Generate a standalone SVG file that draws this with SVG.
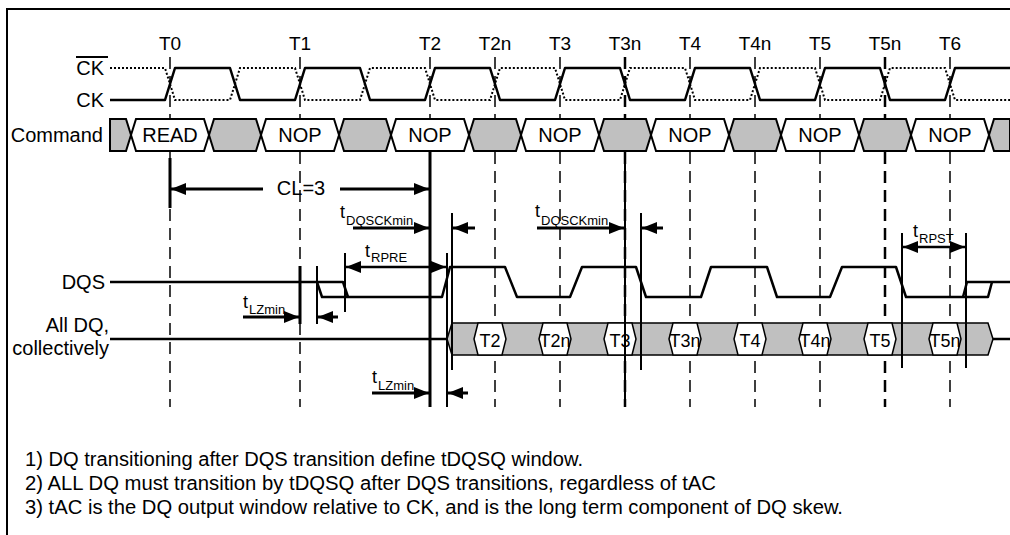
<svg xmlns="http://www.w3.org/2000/svg" width="1010" height="535" viewBox="0 0 1010 535">
<style>
text{font-family:"Liberation Sans",Arial,sans-serif;fill:#000}
.lbl{font-size:20px}
.cmd{font-size:20px;text-anchor:middle}
.tk{font-size:19px;text-anchor:middle}
.dql{font-size:18px;text-anchor:middle}
.t{font-size:18px}
.sub{font-size:13px}
.note{font-size:20px}
.dash{stroke:#000;stroke-width:1.5;stroke-dasharray:12 7;fill:none}
.dashb{stroke:#000;stroke-width:2.5;stroke-dasharray:12 7;fill:none}
.wave{stroke:#000;stroke-width:2.5;fill:none;stroke-linejoin:round}
.dot{stroke:#000;stroke-width:2;stroke-dasharray:2 2;fill:none}
.gray{fill:#c0c0c0;stroke:#000;stroke-width:2}
.white{fill:#fff;stroke:#000;stroke-width:2}
.gdq{fill:#c0c0c0;stroke:#000;stroke-width:1.5}
.wdq{fill:#fff;stroke:#000;stroke-width:1.5}
.vl{stroke:#000;stroke-width:2;fill:none}
.vlb{stroke:#000;stroke-width:3;fill:none}
.arr{stroke:#000;stroke-width:3;fill:none;marker-end:url(#ah)}
.darr{stroke:#000;stroke-width:2.5;fill:none;marker-end:url(#ah);marker-start:url(#ahs)}
</style>
<defs>
<marker id="ah" markerUnits="userSpaceOnUse" markerWidth="15" markerHeight="12" refX="15" refY="6" orient="auto"><path d="M0,0 L15,6 L0,12 z" fill="#000"/></marker>
<marker id="ahs" markerUnits="userSpaceOnUse" markerWidth="15" markerHeight="12" refX="0" refY="6" orient="auto"><path d="M15,0 L0,6 L15,12 z" fill="#000"/></marker>
</defs>
<rect width="1010" height="535" fill="#fff"/>
<path d="M7,535 L7,9 L1010,9" stroke="#000" stroke-width="2" fill="none"/>

<g id="time-marks">
<g class="tk">
<text x="170" y="50">T0</text><text x="300" y="50">T1</text><text x="430" y="50">T2</text><text x="495" y="50">T2n</text><text x="560" y="50">T3</text><text x="625" y="50">T3n</text><text x="690" y="50">T4</text><text x="755" y="50">T4n</text><text x="820" y="50">T5</text><text x="885" y="50">T5n</text><text x="950" y="50">T6</text>
</g>
<path class="dash" d="M170,57V407 M300,57V407 M430,57V407 M495,57V407 M560,57V407 M690,57V407 M755,57V407 M820,57V407 M950,57V407"/>
<path class="dashb" d="M625,57V407 M885,57V407"/>
</g>

<g id="signal-labels" class="lbl">
<text x="104" y="75" text-anchor="end">CK</text>
<line x1="76" y1="57" x2="108" y2="57" stroke="#000" stroke-width="2"/>
<text x="104" y="107" text-anchor="end">CK</text>
<text x="103" y="142" text-anchor="end">Command</text>
<text x="105" y="289" text-anchor="end">DQS</text>
<text x="109" y="332" text-anchor="end">All DQ,</text>
<text x="109" y="355" text-anchor="end">collectively</text>
</g>

<g id="ck">
<path class="dot" d="M110,68 L165,68 L175,100 L230,100 L240,68 L295,68 L305,100 L360,100 L370,68 L425,68 L435,100 L490,100 L500,68 L555,68 L565,100 L620,100 L630,68 L685,68 L695,100 L750,100 L760,68 L815,68 L825,100 L880,100 L890,68 L945,68 L955,100 L1010,100"/>
<path class="wave" d="M110,100 L165,100 L175,68 L230,68 L240,100 L295,100 L305,68 L360,68 L370,100 L425,100 L435,68 L490,68 L500,100 L555,100 L565,68 L620,68 L630,100 L685,100 L695,68 L750,68 L760,100 L815,100 L825,68 L880,68 L890,100 L945,100 L955,68 L1010,68"/>
</g>

<g id="command">
<polygon class="gray" points="110,119 126,119 131,135 126,151 110,151"/>
<polygon class="white" points="131,135 136,119 204,119 209,135 204,151 136,151"/>
<polygon class="gray" points="209,135 214,119 256,119 261,135 256,151 214,151"/>
<polygon class="white" points="261,135 266,119 334,119 339,135 334,151 266,151"/>
<polygon class="gray" points="339,135 344,119 386,119 391,135 386,151 344,151"/>
<polygon class="white" points="391,135 396,119 464,119 469,135 464,151 396,151"/>
<polygon class="gray" points="469,135 474,119 516,119 521,135 516,151 474,151"/>
<polygon class="white" points="521,135 526,119 594,119 599,135 594,151 526,151"/>
<polygon class="gray" points="599,135 604,119 646,119 651,135 646,151 604,151"/>
<polygon class="white" points="651,135 656,119 724,119 729,135 724,151 656,151"/>
<polygon class="gray" points="729,135 734,119 776,119 781,135 776,151 734,151"/>
<polygon class="white" points="781,135 786,119 854,119 859,135 854,151 786,151"/>
<polygon class="gray" points="859,135 864,119 906,119 911,135 906,151 864,151"/>
<polygon class="white" points="911,135 916,119 984,119 989,135 984,151 916,151"/>
<polygon class="gray" points="989,135 994,119 1010,119 1010,151 994,151"/>
<g class="cmd">
<text x="170" y="142">READ</text><text x="300" y="142">NOP</text><text x="430" y="142">NOP</text><text x="560" y="142">NOP</text><text x="690" y="142">NOP</text><text x="820" y="142">NOP</text><text x="950" y="142">NOP</text>
</g>
</g>

<g id="dqs">
<path class="wave" d="M110,282 L343,282 L348,297"/>
<path class="wave" d="M317,282 L322,297 L442,297 L450,267 L505,267 L517,297 L570,297 L582,267 L636,267 L646,297 L701,297 L711,267 L767,267 L777,297 L830,297 L842,267 L896,267 L906,297 L988,297 L992,282"/>
<path class="wave" d="M963,297 L967,282 L1010,282"/>
</g>

<g id="dq">
<path class="wave" d="M110,339 L447,339 M993,339 L1010,339"/>
<polygon class="gdq" points="447,339 452,323 988,323 993,339 988,355 452,355"/>
<polygon class="wdq" points="474,339 478,323 502,323 506,339 502,355 478,355"/>
<polygon class="wdq" points="539,339 543,323 567,323 571,339 567,355 543,355"/>
<polygon class="wdq" points="604,339 608,323 632,323 636,339 632,355 608,355"/>
<polygon class="wdq" points="669,339 673,323 697,323 701,339 697,355 673,355"/>
<polygon class="wdq" points="734,339 738,323 762,323 766,339 762,355 738,355"/>
<polygon class="wdq" points="799,339 803,323 827,323 831,339 827,355 803,355"/>
<polygon class="wdq" points="864,339 868,323 892,323 896,339 892,355 868,355"/>
<polygon class="wdq" points="929,339 933,323 957,323 961,339 957,355 933,355"/>
<g class="dql">
<text x="490" y="347">T2</text><text x="555" y="347">T2n</text><text x="620" y="347">T3</text><text x="685" y="347">T3n</text><text x="750" y="347">T4</text><text x="815" y="347">T4n</text><text x="880" y="347">T5</text><text x="945" y="347">T5n</text>
</g>
</g>

<g id="connectors">
<path class="vlb" d="M170,158V208 M430,152V407 M300,266V324"/>
<path class="vl" d="M625,152V407 M317,266V324 M345,253V312 M447,253V407 M452,213V370 M641,213V370 M902,233V368 M966,233V368"/>
<path class="arr" d="M263,189 L171,189"/>
<path class="arr" d="M340,189 L429,189"/>
<path class="arr" d="M353,228 L429,228"/>
<path class="arr" d="M475,228 L453,228"/>
<path class="darr" d="M346,267 L446,267"/>
<path class="arr" d="M243,317 L299,317"/>
<path class="arr" d="M338,317 L318,317"/>
<path class="arr" d="M372,393 L429,393"/>
<path class="arr" d="M468,393 L448,393"/>
<path class="arr" d="M537,228 L624,228"/>
<path class="arr" d="M663,228 L642,228"/>
<path class="darr" d="M903,247 L965,247"/>
</g>

<g id="timing-labels">
<text class="lbl" x="301" y="195" text-anchor="middle">CL=3</text>
<text class="t" x="340" y="218">t</text><text class="sub" x="346" y="225">DQSCKmin</text>
<text class="t" x="365" y="257">t</text><text class="sub" x="371" y="262">RPRE</text>
<text class="t" x="243" y="308">t</text><text class="sub" x="249" y="314">LZmin</text>
<text class="t" x="372" y="383">t</text><text class="sub" x="378" y="390">LZmin</text>
<text class="t" x="535" y="217">t</text><text class="sub" x="541" y="225">DQSCKmin</text>
<text class="t" x="913" y="237">t</text><text class="sub" x="919" y="243">RPST</text>
</g>

<g id="notes" class="note">
<text x="25" y="466" textLength="558" lengthAdjust="spacingAndGlyphs">1) DQ transitioning after DQS transition define tDQSQ window.</text>
<text x="25" y="490" textLength="691" lengthAdjust="spacingAndGlyphs">2) ALL DQ must transition by tDQSQ after DQS transitions, regardless of tAC</text>
<text x="25" y="514" textLength="818" lengthAdjust="spacingAndGlyphs">3) tAC is the DQ output window relative to CK, and is the long term component of DQ skew.</text>
</g>
</svg>
